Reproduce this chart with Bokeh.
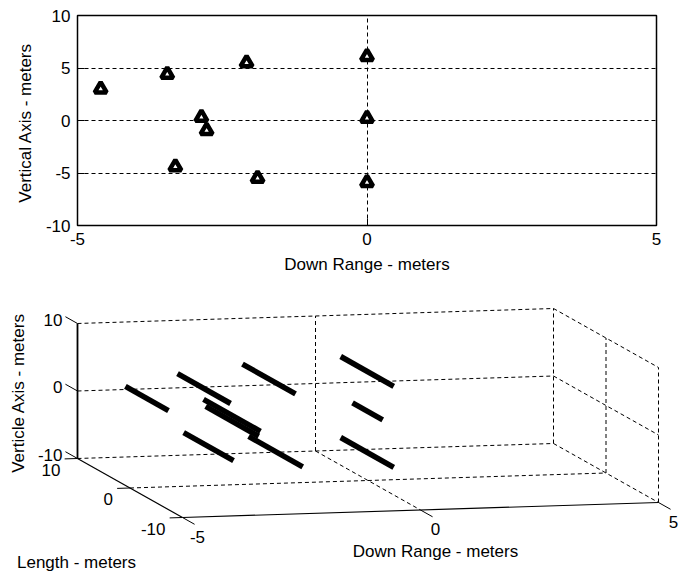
import numpy as np
from bokeh.plotting import figure
from bokeh.models import Range1d, FixedTicker
from bokeh.layouts import column
from bokeh.embed import file_html
from bokeh.resources import INLINE
from bokeh.core.properties import value

FONT = "Liberation Sans"
FS = "17px"

# Target positions (metres): down range / vertical, and the extent along length
down_range = [-4.6, -3.45, -2.08, -2.86, -2.77, -3.31, -1.89, 0.0, 0.0, 0.0]
vertical = [3.0, 4.4, 5.5, 0.3, -0.95, -4.4, -5.5, 6.1, 0.2, -5.9]
length_start = [4.5, 5.0, 5.05, 5.4, 5.8, 5.1, 5.6, 5.2, 2.95, 5.2]
length_end = [-3.7, -5.1, -5.05, -5.45, -4.3, -4.4, -4.7, -4.9, -2.8, -4.9]

down_ticks = [-5, 0, 5]
vert_ticks = [-10, -5, 0, 5, 10]
vert_ticks_3d = [-10, 0, 10]
length_ticks = [-10, 0, 10]

TOP_H = 277
W = 679
H = 571


def tick_text(v):
    return str(v)


# ---------------- top: 2-D view (down range vs vertical) ----------------
top = figure(width=W, height=TOP_H, x_range=Range1d(-5, 5), y_range=Range1d(-10, 10),
             output_backend="svg", toolbar_location=None,
             min_border_left=77, min_border_right=23, min_border_top=15,
             min_border_bottom=52, background_fill_color="white",
             border_fill_color="white", frame_align=False)
top.outline_line_color = "black"
top.outline_line_width = 1.5
top.outline_line_alpha = 1.0

top.xaxis.ticker = FixedTicker(ticks=down_ticks)
top.yaxis.ticker = FixedTicker(ticks=vert_ticks)
top.xaxis.major_label_overrides = {v: tick_text(v) for v in down_ticks}
top.yaxis.major_label_overrides = {v: tick_text(v) for v in vert_ticks}
top.xaxis.axis_label = "Down Range - meters"
top.yaxis.axis_label = "Vertical  Axis - meters"
for ax in (top.xaxis[0], top.yaxis[0]):
    ax.axis_line_color = None
    ax.major_tick_in = 7
    ax.major_tick_out = 0
    ax.major_tick_line_color = "black"
    ax.minor_tick_line_color = None
    ax.major_label_text_font = FONT
    ax.major_label_text_font_size = FS
    ax.major_label_text_color = "black"
    ax.axis_label_text_font = FONT
    ax.axis_label_text_font_size = FS
    ax.axis_label_text_font_style = "normal"
    ax.axis_label_text_color = "black"
top.xaxis.major_label_standoff = 7
top.xaxis.axis_label_standoff = 7
top.yaxis.major_label_standoff = 7
top.yaxis.axis_label_standoff = 8

top.xgrid.ticker = FixedTicker(ticks=[0])
top.ygrid.ticker = FixedTicker(ticks=[-5, 0, 5])
for g in (top.xgrid[0], top.ygrid[0]):
    g.grid_line_color = "black"
    g.grid_line_dash = "4 3"
    g.grid_line_width = 1

top.scatter(down_range, vertical, marker="triangle", size=12,
            line_color="black", line_width=4.5, fill_color="white")

# ---------------- bottom: 3-D view ----------------
# Screen placement of the view: where the (-5, -10, -10) corner lands and
# the pixel step for one metre along each data axis.
ORIGIN = np.array([182.0, 517.0])
EX = np.array([47.6, -1.5])
EY = np.array([-5.25, -2.95])
EZ = np.array([0.0, -6.75])
LO = (-5.0, -10.0, -10.0)


def proj(x, y, z):
    x = np.atleast_1d(np.asarray(x, float))
    y = np.atleast_1d(np.asarray(y, float))
    z = np.atleast_1d(np.asarray(z, float))
    pts = (ORIGIN[None, :]
           + (x - LO[0])[:, None] * EX
           + (y - LO[1])[:, None] * EY
           + (z - LO[2])[:, None] * EZ)
    return pts[:, 0], pts[:, 1]


def seg3(pairs):
    a = np.array([p[0] for p in pairs], float)
    b = np.array([p[1] for p in pairs], float)
    x0, y0 = proj(a[:, 0], a[:, 1], a[:, 2])
    x1, y1 = proj(b[:, 0], b[:, 1], b[:, 2])
    return x0, y0, x1, y1


bot = figure(width=W, height=H - TOP_H, x_range=Range1d(0, W), y_range=Range1d(H, TOP_H),
             x_axis_location=None, y_axis_location=None, min_border=0,
             output_backend="svg", toolbar_location=None,
             background_fill_color="white", border_fill_color="white",
             frame_align=False)
bot.outline_line_color = None
bot.grid.visible = False

xmin, xmax = -5, 5
ymin, ymax = -10, 10
zmin, zmax = -10, 10

grid_pairs = []
# back wall (length = +10)
for z in vert_ticks_3d:
    grid_pairs.append(((xmin, ymax, z), (xmax, ymax, z)))
for x in (0, xmax):
    grid_pairs.append(((x, ymax, zmin), (x, ymax, zmax)))
# side wall (down range = +5)
for z in vert_ticks_3d:
    grid_pairs.append(((xmax, ymax, z), (xmax, ymin, z)))
for y in (0, ymin):
    grid_pairs.append(((xmax, y, zmin), (xmax, y, zmax)))
# floor (vertical = -10)
grid_pairs.append(((xmin, 0, zmin), (xmax, 0, zmin)))
grid_pairs.append(((0, ymax, zmin), (0, ymin, zmin)))

gx0, gy0, gx1, gy1 = seg3(grid_pairs)
bot.segment(gx0, gy0, gx1, gy1, line_color="black", line_width=1, line_dash="4 3")

# solid axis lines
axis_pairs = [((xmin, ymax, zmin), (xmin, ymax, zmax)),
              ((xmin, ymax, zmin), (xmin, ymin, zmin)),
              ((xmin, ymin, zmin), (xmax, ymin, zmin))]
ax0, ay0, ax1, ay1 = seg3(axis_pairs)
bot.segment(ax0[:1], ay0[:1], ax1[:1], ay1[:1], line_color="black", line_width=1.8)
bot.segment(ax0[1:], ay0[1:], ax1[1:], ay1[1:], line_color="black", line_width=1.2)

# tick marks
tick_pairs = []
for z in vert_ticks_3d:
    tick_pairs.append(((xmin, ymax, z), (xmin, ymax + 2.3, z)))
for y in length_ticks:
    tick_pairs.append(((xmin, y, zmin), (xmin - 0.27, y, zmin)))
for x in down_ticks:
    tick_pairs.append(((x, ymin, zmin), (x, ymin - 2.3, zmin)))
tx0, ty0, tx1, ty1 = seg3(tick_pairs)
bot.segment(tx0, ty0, tx1, ty1, line_color="black", line_width=1)

txt = dict(text_font=value(FONT), text_font_size=FS, text_color="black",
           text_baseline="middle")

# vertical tick labels
zx, zy = proj([xmin] * 3, [ymax] * 3, vert_ticks_3d)
bot.text(zx - 15, zy - 4, text=[tick_text(v) for v in vert_ticks_3d], text_align="right", **txt)
# length tick labels
lx, ly = proj([xmin] * 3, length_ticks, [zmin] * 3)
bot.text(lx - 17, ly + 11, text=[tick_text(v) for v in length_ticks], text_align="right", **txt)
# down range tick labels
dx, dy = proj(down_ticks, [ymin] * 3, [zmin] * 3)
bot.text(dx + 15, dy + 19, text=[tick_text(v) for v in down_ticks], text_align="center", **txt)

# axis titles
zcx, zcy = proj([xmin], [ymax], [0])
bot.text([18], zcy + 2, text=["Verticle Axis - meters"], angle=np.pi / 2,
         text_align="center", **txt)
lcx, lcy = proj([xmin], [ymin], [zmin])
bot.text([76], lcy + 45, text=["Length - meters"], text_align="center", **txt)
dcx, dcy = proj([0], [ymin], [zmin])
bot.text(dcx + 15, dcy + 41, text=["Down Range - meters"], text_align="center", **txt)

# targets: one bar along the length axis per target
sx0, sy0 = proj(down_range, length_start, vertical)
sx1, sy1 = proj(down_range, length_end, vertical)
bot.segment(sx0, sy0, sx1, sy1, line_color="black", line_width=5.5, line_cap="butt")

layout = column(top, bot, spacing=0)
open("out.html", "w").write(file_html(layout, INLINE))
